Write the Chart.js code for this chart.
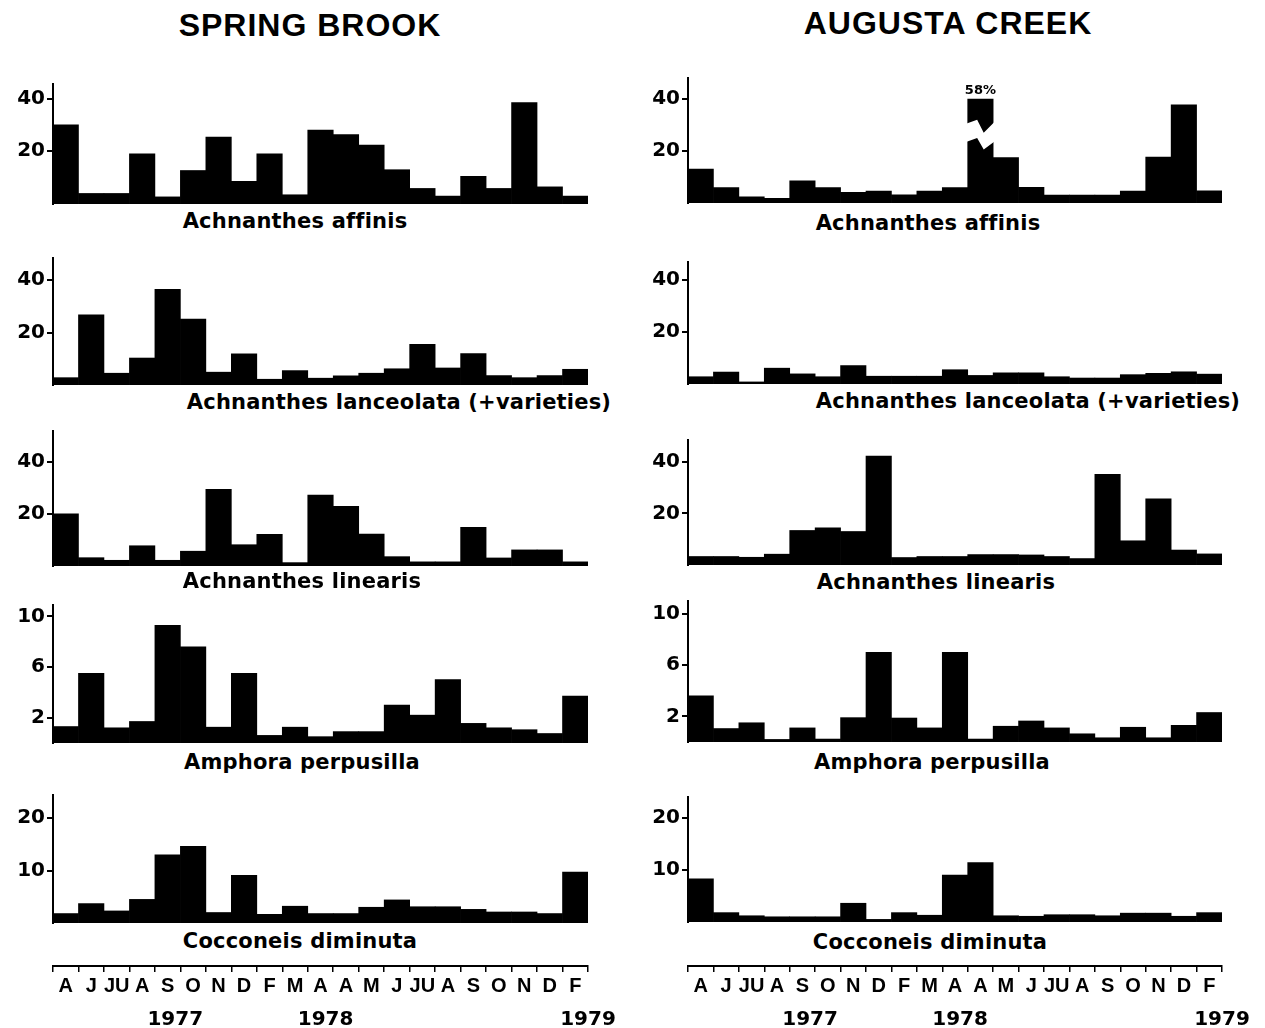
<!DOCTYPE html>
<html>
<head>
<meta charset="utf-8">
<script src="https://cdn.jsdelivr.net/npm/chart.js@4.4.1/dist/chart.umd.min.js"></script>
<style>
  body { margin: 0; background: #fff; }
  #page { position: relative; width: 1265px; height: 1028px; overflow: hidden; }
  #page canvas { position: absolute; }
  .lbl { position: absolute; transform: translate(-50%, -50%); white-space: nowrap;
         font: bold 21px "DejaVu Sans", sans-serif; letter-spacing: 0.2px; color: #000; }
  .head { font: bold 32px "Liberation Sans", Arial, sans-serif; letter-spacing: 1px; }
</style>
</head>
<body>
<div id="page"></div>
<script>
// sampling dates along the bottom axis
const months = ['A','J','JU','A','S','O','N','D','F','M','A','A','M','J','JU','A','S','O','N','D','F'];
const yearTicks = [4.3, 10.2, 20.5];
const yearLabels = ['1977', '1978', '1979'];

// relative abundance (%) - Spring Brook
const springAffinis     = [30, 4, 4, 19, 2.7, 12.7, 25.4, 8.6, 19, 3.5, 28, 26.3, 22.3, 13, 5.9, 3, 10.5, 5.9, 38.5, 6.5, 3];
const springLanceolata  = [2.8, 26.8, 4.5, 10.3, 36.5, 25.2, 4.9, 11.9, 2.2, 5.5, 2.6, 3.5, 4.5, 6.2, 15.5, 6.5, 12, 3.6, 2.8, 3.6, 6];
const springLinearis    = [20.1, 3.2, 2.2, 7.8, 2.2, 5.7, 29.5, 8.2, 12.2, 1.3, 27.3, 23, 12.3, 3.6, 1.6, 1.6, 14.9, 3.1, 6.2, 6.2, 1.6];
const springAmphora     = [1.3, 5.5, 1.2, 1.7, 9.3, 7.6, 1.25, 5.5, 0.6, 1.25, 0.5, 0.9, 0.9, 3.0, 2.2, 5.0, 1.55, 1.2, 1.05, 0.75, 3.7];
const springCocconeis   = [1.8, 3.7, 2.3, 4.5, 13, 14.6, 2.0, 9.1, 1.65, 3.2, 1.8, 1.8, 3.0, 4.4, 3.1, 3.1, 2.6, 2.1, 2.1, 1.8, 9.7];

// relative abundance (%) - Augusta Creek
const augustaAffinis    = [13, 5.9, 2.4, 1.8, 8.5, 5.9, 4.1, 4.6, 3.1, 4.6, 5.9, 58, 17.4, 6, 3, 3, 3, 4.6, 17.6, 37.7, 4.7];
const augustaLanceolata = [2.8, 4.6, 0.8, 6.1, 3.9, 2.8, 7.1, 3.0, 3.0, 3.0, 5.5, 3.3, 4.3, 4.3, 2.8, 2.3, 2.3, 3.6, 4.1, 4.7, 3.8];
const augustaLinearis   = [3.3, 3.3, 3.0, 4.2, 13.4, 14.4, 13, 42.3, 2.9, 3.3, 3.3, 4.05, 4.05, 3.9, 3.3, 2.5, 35.2, 9.4, 25.7, 5.8, 4.3];
const augustaAmphora    = [3.6, 1.05, 1.5, 0.2, 1.1, 0.23, 1.9, 7.0, 1.87, 1.1, 7.0, 0.23, 1.23, 1.64, 1.1, 0.64, 0.33, 1.15, 0.33, 1.3, 2.3];
const augustaCocconeis  = [8.3, 1.8, 1.2, 1.0, 1.0, 1.0, 3.6, 0.5, 1.8, 1.3, 9.0, 11.4, 1.2, 1.1, 1.4, 1.4, 1.2, 1.7, 1.7, 1.1, 1.8];

// y tick values
const pctTicks = [20, 40];
const amphoraTicks = [2, 6, 10];
const cocconeisTicks = [10, 20];

const FONT = '"Liberation Sans", Arial, sans-serif';
const WIDE = '"DejaVu Sans", sans-serif';
const PAD_T = 16, PAD_B = 4;
const page = document.getElementById('page');

// two columns of panels: canvas box and plot left/right edges
const cols = [
  { left: 0,   width: 620, plotLeft: 53,  plotRight: 588, axisLine: 963 },
  { left: 630, width: 635, plotLeft: 688, plotRight: 1222, axisLine: 964 }
];

const panels = [
  { col: 0, values: springAffinis,     max: 45.5, ticks: pctTicks,       top: 84,  bottom: 204, name: 'Achnanthes affinis', lx: 295, ly: 221 },
  { col: 0, values: springLanceolata,  max: 48.5, ticks: pctTicks,       top: 258, bottom: 385, name: 'Achnanthes lanceolata (+varieties)', lx: 399, ly: 402 },
  { col: 0, values: springLinearis,    max: 52,   ticks: pctTicks,       top: 431, bottom: 566, name: 'Achnanthes linearis', lx: 302, ly: 581 },
  { col: 0, values: springAmphora,     max: 10.9, ticks: amphoraTicks,   top: 605, bottom: 743, name: 'Amphora perpusilla', lx: 302, ly: 762 },
  { col: 0, values: springCocconeis,   max: 24.4, ticks: cocconeisTicks, top: 795, bottom: 923, name: 'Cocconeis diminuta', lx: 300, ly: 941 },
  { col: 1, values: augustaAffinis,    max: 48,   ticks: pctTicks,       top: 78,  bottom: 203, name: 'Achnanthes affinis', lx: 928, ly: 223, cap: 40 },
  { col: 1, values: augustaLanceolata, max: 47,   ticks: pctTicks,       top: 262, bottom: 384, name: 'Achnanthes lanceolata (+varieties)', lx: 1028, ly: 401 },
  { col: 1, values: augustaLinearis,   max: 48.5, ticks: pctTicks,       top: 440, bottom: 565, name: 'Achnanthes linearis', lx: 936, ly: 582 },
  { col: 1, values: augustaAmphora,    max: 11,   ticks: amphoraTicks,   top: 601, bottom: 742, name: 'Amphora perpusilla', lx: 932, ly: 762 },
  { col: 1, values: augustaCocconeis,  max: 24,   ticks: cocconeisTicks, top: 797, bottom: 922, name: 'Cocconeis diminuta', lx: 930, ly: 942 }
];

// bar taller than the axis: cut at `cap`, zigzag break, value written on top
const brokenBar = {
  id: 'brokenBar',
  beforeDatasetsDraw(chart, args, opts) {
    if (!opts.cap) return;
    const { ctx, chartArea: a, scales: { y } } = chart;
    const top = y.getPixelForValue(opts.cap);
    ctx.save();
    ctx.beginPath();
    ctx.rect(a.left, top, a.right - a.left, a.bottom - top);
    ctx.clip();
  },
  afterDatasetsDraw(chart, args, opts) {
    if (!opts.cap) return;
    const { ctx, scales: { y } } = chart;
    ctx.restore();
    const top = y.getPixelForValue(opts.cap);
    const values = chart.data.datasets[0].data;
    chart.getDatasetMeta(0).data.forEach((bar, i) => {
      if (values[i] <= opts.cap) return;
      const l = bar.x - bar.width / 2 - 1, w = bar.width + 2;
      const pt = ([f, v]) => [l + f * w, y.getPixelForValue(v)];
      ctx.save();
      ctx.fillStyle = '#fff';
      ctx.beginPath();
      opts.upper.map(pt).forEach(([px, py], k) => k ? ctx.lineTo(px, py) : ctx.moveTo(px, py));
      opts.lower.slice().reverse().map(pt).forEach(([px, py]) => ctx.lineTo(px, py));
      ctx.closePath();
      ctx.fill();
      ctx.fillStyle = '#000';
      ctx.font = 'bold 13px ' + WIDE;
      ctx.textAlign = 'center';
      ctx.textBaseline = 'bottom';
      ctx.fillText(values[i] + '%', bar.x, top - 2);
      ctx.restore();
    });
  }
};
Chart.register(brokenBar);

function addCanvas(left, top, width, height) {
  const c = document.createElement('canvas');
  c.width = width; c.height = height;
  c.style.left = left + 'px'; c.style.top = top + 'px';
  page.appendChild(c);
  return c;
}

function addLabel(text, x, y, cls) {
  const d = document.createElement('div');
  d.className = 'lbl' + (cls ? ' ' + cls : '');
  d.style.left = x + 'px'; d.style.top = y + 'px';
  d.textContent = text;
  page.appendChild(d);
}

const monthFont = { family: FONT, size: 20, weight: 'bold' };
const numFont = { family: WIDE, size: 20, weight: 'bold' };

panels.forEach(p => {
  const col = cols[p.col];
  const canvas = addCanvas(col.left, p.top - PAD_T, col.width, p.bottom - p.top + PAD_T + PAD_B);
  new Chart(canvas, {
    type: 'bar',
    data: {
      labels: months,
      datasets: [{
        data: p.values,
        backgroundColor: '#000',
        borderWidth: 0,
        barPercentage: 1,
        categoryPercentage: 1
      }]
    },
    options: {
      responsive: false,
      animation: false,
      events: [],
      layout: { padding: { top: PAD_T, bottom: PAD_B, left: 0, right: col.left + col.width - col.plotRight } },
      plugins: {
        legend: { display: false },
        tooltip: { enabled: false },
        brokenBar: {
          cap: p.cap,
          upper: [[0, 30.5], [0.38, 32], [0.62, 27], [1, 31]],
          lower: [[0, 23.5], [0.38, 25], [0.62, 20.5], [1, 23.5]]
        }
      },
      scales: {
        x: { display: false },
        y: {
          min: 0,
          max: p.max,
          afterBuildTicks: s => { s.ticks = p.ticks.map(v => ({ value: v })); },
          afterFit: s => { s.width = col.plotLeft - col.left; s.paddingTop = 0; s.paddingBottom = 0; },
          border: { color: '#000', width: 2 },
          grid: { drawOnChartArea: false, color: '#000', lineWidth: 2, tickLength: 6 },
          ticks: { color: '#000', padding: 2, font: numFont }
        }
      }
    }
  });
  addLabel(p.name, p.lx, p.ly);
});

// month / year axis under each column
cols.forEach(col => {
  const top = col.axisLine - 20;
  const canvas = addCanvas(col.left, top, col.width, 1028 - top);
  new Chart(canvas, {
    type: 'bar',
    data: { labels: months, datasets: [{ data: [] }] },
    options: {
      responsive: false,
      animation: false,
      events: [],
      layout: { padding: { top: 4, left: col.plotLeft - col.left, right: col.left + col.width - col.plotRight, bottom: 0 } },
      plugins: { legend: { display: false }, tooltip: { enabled: false } },
      scales: {
        y: { display: false },
        x: {
          position: 'bottom',
          border: { color: '#000', width: 2 },
          grid: { offset: true, drawOnChartArea: false, color: '#000', lineWidth: 1.5, tickLength: 6 },
          ticks: { color: '#000', padding: 2, autoSkip: false, maxRotation: 0, font: monthFont },
          afterFit: s => { s.height = 34; }
        },
        x2: {
          type: 'linear',
          position: 'bottom',
          offset: false,
          min: -0.5,
          max: 20.5,
          afterBuildTicks: s => { s.ticks = yearTicks.map(v => ({ value: v })); },
          ticks: { color: '#000', padding: 0, maxRotation: 0, font: numFont, callback: (v, i) => yearLabels[i] },
          grid: { display: false },
          border: { display: false },
          afterFit: s => { s.height = 28; }
        }
      }
    }
  });
});

addLabel('SPRING BROOK', 310, 25, 'head');
addLabel('AUGUSTA CREEK', 948, 23, 'head');
</script>
</body>
</html>
